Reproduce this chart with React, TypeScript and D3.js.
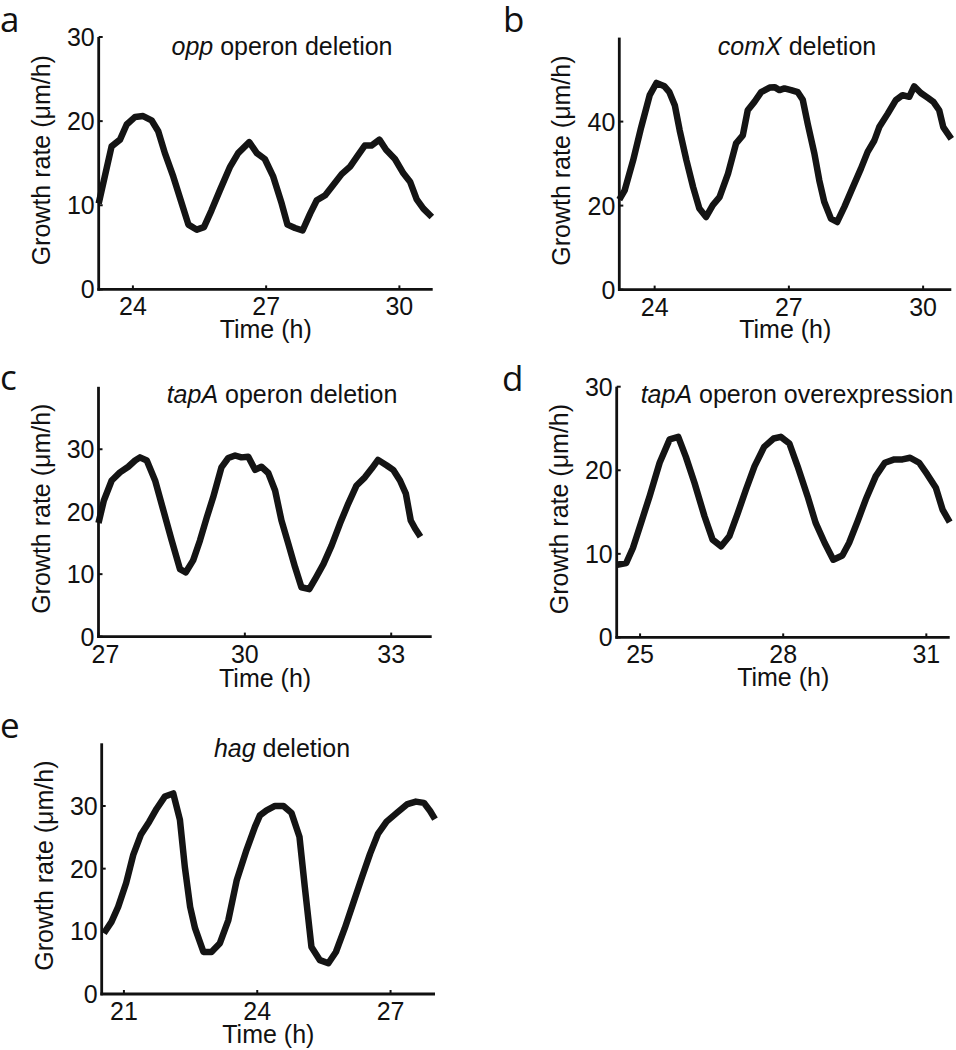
import React from 'react';
import * as d3 from 'd3';

// ---------- data ----------
const oppTime = [23.23,23.52,23.71,23.86,24.05,24.23,24.42,24.57,24.72,24.91,25.10,25.25,25.44,25.60,25.77,25.96,26.19,26.37,26.62,26.79,26.97,27.16,27.35,27.48,27.65,27.82,27.99,28.14,28.33,28.51,28.70,28.89,29.05,29.22,29.37,29.55,29.70,29.90,30.09,30.24,30.39,30.54,30.73];
const oppRate = [10.2,17.0,17.8,19.6,20.5,20.6,20.1,18.8,16.2,13.4,10.2,7.7,7.1,7.4,9.4,11.8,14.6,16.2,17.5,16.2,15.5,13.4,10.2,7.7,7.3,7.0,9.0,10.6,11.2,12.4,13.7,14.6,15.8,17.1,17.1,17.8,16.6,15.5,13.8,12.8,10.7,9.6,8.6];

const comXTime = [23.21,23.33,23.52,23.70,23.89,24.04,24.22,24.33,24.45,24.56,24.71,24.86,25.00,25.15,25.30,25.45,25.64,25.82,25.97,26.08,26.23,26.38,26.57,26.68,26.79,26.90,27.05,27.20,27.31,27.42,27.57,27.68,27.79,27.94,28.08,28.24,28.43,28.61,28.76,28.91,29.02,29.21,29.39,29.54,29.69,29.80,29.95,30.10,30.23,30.36,30.45,30.63];
const comXRate = [21.4,23.6,30.8,38.7,46.3,49.2,48.4,47.0,43.9,37.9,30.8,24.4,19.3,17.3,20.1,22.0,27.6,34.8,36.7,42.7,44.7,47.0,48.1,48.2,47.5,47.9,47.5,47.0,45.2,39.5,32.4,26.0,20.9,16.9,16.1,19.7,24.4,28.8,32.8,35.5,38.7,41.9,45.1,46.3,45.9,48.4,46.8,45.7,44.7,42.7,38.7,35.9];

const tapADelTime = [27.00,27.11,27.27,27.44,27.61,27.75,27.85,27.99,28.16,28.33,28.50,28.67,28.79,28.94,29.08,29.22,29.35,29.52,29.66,29.80,29.93,30.07,30.21,30.34,30.48,30.62,30.75,30.89,31.03,31.16,31.32,31.46,31.61,31.78,31.95,32.12,32.29,32.46,32.60,32.73,32.91,33.04,33.18,33.30,33.40,33.49,33.60];
const tapADelRate = [18.2,21.8,25.0,26.3,27.2,28.2,28.7,28.2,25.0,20.2,15.4,10.8,10.3,12.2,15.4,19.1,22.3,27.1,28.6,29.0,28.7,28.8,26.7,27.2,26.2,23.4,18.6,14.9,11.1,7.9,7.6,9.5,11.6,14.6,18.1,21.3,24.2,25.5,26.9,28.3,27.4,26.7,25.0,22.9,18.6,17.3,16.0];

const tapAOverTime = [24.52,24.71,24.85,25.02,25.20,25.41,25.62,25.80,25.96,26.14,26.35,26.52,26.70,26.87,27.05,27.22,27.40,27.60,27.80,27.95,28.13,28.30,28.51,28.68,28.87,29.05,29.24,29.38,29.56,29.73,29.94,30.13,30.33,30.50,30.66,30.85,31.02,31.20,31.34,31.49];
const tapAOverRate = [8.7,8.9,10.7,13.7,16.9,20.9,23.7,24.0,21.6,18.5,14.5,11.7,10.9,12.1,14.9,17.7,20.5,22.8,23.8,24.0,23.2,20.5,16.9,13.7,11.3,9.3,9.8,11.3,13.9,16.5,19.3,20.9,21.3,21.3,21.5,20.9,19.5,17.9,15.3,13.8];

const hagTime = [20.55,20.72,20.87,21.05,21.21,21.38,21.57,21.74,21.92,22.11,22.26,22.37,22.49,22.60,22.79,22.97,23.16,23.35,23.54,23.76,23.95,24.06,24.21,24.40,24.59,24.77,24.95,25.07,25.22,25.41,25.60,25.77,25.97,26.16,26.35,26.54,26.72,26.91,27.14,27.38,27.57,27.75,27.89,28.0];
const hagRate = [9.7,11.5,13.9,17.7,22.2,25.4,27.5,29.6,31.5,32.0,27.8,20.3,13.9,10.5,6.7,6.7,8.1,11.8,18.2,23.0,26.7,28.5,29.3,30.0,30.0,28.9,25.1,17.1,7.5,5.4,4.9,6.7,10.5,14.5,18.5,22.4,25.6,27.5,28.9,30.3,30.7,30.5,29.2,27.9];

const panelLetters = ['a', 'b', 'c', 'd', 'e'];
const geneNames = ['opp', 'comX', 'tapA', 'tapA', 'hag'];
const titleRest = [' operon deletion', ' deletion', ' operon deletion', ' operon overexpression', ' deletion'];
const xDomains: [number, number][] = [[23.23, 30.75], [23.21, 30.63], [27.0, 33.83], [24.51, 31.49], [20.5, 28.0]];
const yDomains: [number, number][] = [[0, 30], [0, 60], [0, 40], [0, 30], [0, 40]];
const xTicks = [[24, 27, 30], [24, 27, 30], [27, 30, 33], [25, 28, 31], [21, 24, 27]];
const yTicks = [[0, 10, 20, 30], [0, 20, 40], [0, 10, 20, 30], [0, 10, 20, 30], [0, 10, 20, 30]];
const times = [oppTime, comXTime, tapADelTime, tapAOverTime, hagTime];
const rates = [oppRate, comXRate, tapADelRate, tapAOverRate, hagRate];

// ---------- layout ----------
const boxes = [
  { x0: 98.7, x1: 432.7, y0: 289.4, y1: 37, letterX: 0, letterY: 32, titleX: 282, titleY: 55, xlabY: 49, firstDx: 0 },
  { x0: 619.3, x1: 951.3, y0: 289.6, y1: 37.6, letterX: 503, letterY: 32, titleX: 797, titleY: 55, xlabY: 48, firstDx: 0 },
  { x0: 98.5, x1: 431.7, y0: 636.6, y1: 386.8, letterX: 0, letterY: 390, titleX: 282, titleY: 403, xlabY: 50, firstDx: 7 },
  { x0: 616.7, x1: 949.7, y0: 637.4, y1: 386.7, letterX: 502, letterY: 391, titleX: 797, titleY: 403, xlabY: 49, firstDx: 0 },
  { x0: 101.7, x1: 435, y0: 994, y1: 743.3, letterX: 0, letterY: 738, titleX: 282, titleY: 757, xlabY: 49, firstDx: 0 },
];

const FONT = '"Liberation Sans", Arial, Helvetica, sans-serif';
const FS = 25;

function Panel({ i }: { i: number }) {
  const b = boxes[i];
  const x = d3.scaleLinear().domain(xDomains[i]).range([b.x0, b.x1]);
  const y = d3.scaleLinear().domain(yDomains[i]).range([b.y0, b.y1]);
  const pts: [number, number][] = times[i].map((t, k) => [t, rates[i][k]] as [number, number]).filter(p => p[1] !== undefined);
  const line = d3.line<[number, number]>().x(d => x(d[0])).y(d => y(d[1]));
  const tickLen = 4;
  const midY = (b.y0 + b.y1) / 2 - 3;
  return (
    <g>
      <text x={b.letterX} y={b.letterY} fontFamily='"Open Sans", "Noto Sans", sans-serif' fontSize={35} fill="#111">{panelLetters[i]}</text>
      <text x={b.titleX} y={b.titleY} textAnchor="middle" fontFamily={FONT} fontSize={FS} fill="#111">
        <tspan fontStyle="italic">{geneNames[i]}</tspan>{titleRest[i]}
      </text>
      <path d={line(pts) || ''} fill="none" stroke="#141414" strokeWidth={6.5} strokeLinejoin="round" />
      <line x1={b.x0} x2={b.x0} y1={b.y0 + 1.3} y2={b.y1} stroke="#111" strokeWidth={2.8} />
      <line x1={b.x0 - 1.3} x2={b.x1} y1={b.y0} y2={b.y0} stroke="#111" strokeWidth={2.8} />
      {xTicks[i].map((t, k) => (
        <g key={'x' + t}>
          <line x1={x(t)} x2={x(t)} y1={b.y0} y2={b.y0 - tickLen} stroke="#111" strokeWidth={2} />
          <text x={x(t) + (k === 0 ? b.firstDx : 0)} y={b.y0 + 26} textAnchor="middle" fontFamily={FONT} fontSize={FS} fill="#111">{t}</text>
        </g>
      ))}
      {yTicks[i].map(t => (
        <g key={'y' + t}>
          <line x1={b.x0} x2={b.x0 + tickLen} y1={y(t)} y2={y(t)} stroke="#111" strokeWidth={2} />
          <text x={b.x0 - 4} y={y(t) + 9} textAnchor="end" fontFamily={FONT} fontSize={FS} fill="#111">{t}</text>
        </g>
      ))}
      <text x={(b.x0 + b.x1) / 2} y={b.y0 + b.xlabY} textAnchor="middle" fontFamily={FONT} fontSize={FS} fill="#111">Time (h)</text>
      <text transform={`translate(${b.x0 - 49},${midY}) rotate(-90)`} textAnchor="middle" fontFamily={FONT} fontSize={FS} fill="#111">Growth rate (μm/h)</text>
    </g>
  );
}

export default function App() {
  return (
    <svg width={956} height={1050} style={{ position: 'absolute', left: 0, top: 0, background: '#fff' }}>
      <rect width={956} height={1050} fill="#fff" />
      {boxes.map((_, i) => <Panel key={i} i={i} />)}
    </svg>
  );
}
